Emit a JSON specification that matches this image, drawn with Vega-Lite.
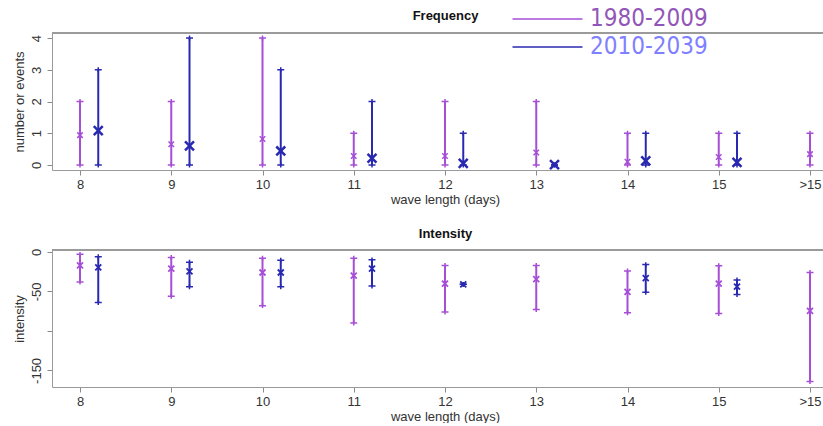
{
  "$schema": "https://vega.github.io/schema/vega-lite/v6.json",
  "background": "white",
  "padding": {"left": 12, "top": 7, "right": 0, "bottom": 0},
  "autosize": {"type": "pad"},
  "config": {
    "font": "Liberation Sans",
    "view": {"stroke": null},
    "axis": {"labelFont": "Liberation Sans", "labelFontSize": 13, "labelColor": "#333333", "titleFont": "Liberation Sans", "titleFontSize": 13, "titleFontWeight": "normal", "titleColor": "#333333", "domainColor": "#9a9a9a", "tickColor": "#8a8a8a", "grid": false, "tickSize": 5, "labelOverlap": false},
    "title": {"font": "Liberation Sans", "fontSize": 13, "fontWeight": "bold", "color": "#111111", "frame": "group"}
  },
  "datasets": {
    "d": [
      {"panel": "Frequency", "wl": "8", "period": "1980-2009", "min": 0, "mean": 0.94, "max": 2},
      {"panel": "Frequency", "wl": "9", "period": "1980-2009", "min": 0, "mean": 0.65, "max": 2},
      {"panel": "Frequency", "wl": "10", "period": "1980-2009", "min": 0, "mean": 0.82, "max": 4},
      {"panel": "Frequency", "wl": "11", "period": "1980-2009", "min": 0, "mean": 0.28, "max": 1},
      {"panel": "Frequency", "wl": "12", "period": "1980-2009", "min": 0, "mean": 0.28, "max": 2},
      {"panel": "Frequency", "wl": "13", "period": "1980-2009", "min": 0, "mean": 0.39, "max": 2},
      {"panel": "Frequency", "wl": "14", "period": "1980-2009", "min": 0, "mean": 0.1, "max": 1},
      {"panel": "Frequency", "wl": "15", "period": "1980-2009", "min": 0, "mean": 0.25, "max": 1},
      {"panel": "Frequency", "wl": ">15", "period": "1980-2009", "min": 0, "mean": 0.34, "max": 1},
      {"panel": "Frequency", "wl": "8", "period": "2010-2039", "min": 0, "mean": 1.08, "max": 3},
      {"panel": "Frequency", "wl": "9", "period": "2010-2039", "min": 0, "mean": 0.6, "max": 4},
      {"panel": "Frequency", "wl": "10", "period": "2010-2039", "min": 0, "mean": 0.44, "max": 3},
      {"panel": "Frequency", "wl": "11", "period": "2010-2039", "min": 0, "mean": 0.21, "max": 2},
      {"panel": "Frequency", "wl": "12", "period": "2010-2039", "min": 0, "mean": 0.05, "max": 1},
      {"panel": "Frequency", "wl": "13", "period": "2010-2039", "min": 0, "mean": 0.01, "max": 0},
      {"panel": "Frequency", "wl": "14", "period": "2010-2039", "min": 0, "mean": 0.13, "max": 1},
      {"panel": "Frequency", "wl": "15", "period": "2010-2039", "min": 0, "mean": 0.08, "max": 1},
      {"panel": "Intensity", "wl": "8", "period": "1980-2009", "min": -38, "mean": -17, "max": -3},
      {"panel": "Intensity", "wl": "9", "period": "1980-2009", "min": -56, "mean": -21, "max": -7},
      {"panel": "Intensity", "wl": "10", "period": "1980-2009", "min": -68, "mean": -26, "max": -8},
      {"panel": "Intensity", "wl": "11", "period": "1980-2009", "min": -90, "mean": -30, "max": -8},
      {"panel": "Intensity", "wl": "12", "period": "1980-2009", "min": -76, "mean": -40, "max": -17},
      {"panel": "Intensity", "wl": "13", "period": "1980-2009", "min": -73, "mean": -34.5, "max": -17},
      {"panel": "Intensity", "wl": "14", "period": "1980-2009", "min": -77, "mean": -50.5, "max": -24},
      {"panel": "Intensity", "wl": "15", "period": "1980-2009", "min": -78, "mean": -40, "max": -17.5},
      {"panel": "Intensity", "wl": ">15", "period": "1980-2009", "min": -164, "mean": -74.5, "max": -26},
      {"panel": "Intensity", "wl": "8", "period": "2010-2039", "min": -64, "mean": -19.5, "max": -6},
      {"panel": "Intensity", "wl": "9", "period": "2010-2039", "min": -44, "mean": -24.5, "max": -13},
      {"panel": "Intensity", "wl": "10", "period": "2010-2039", "min": -44, "mean": -26, "max": -10.5},
      {"panel": "Intensity", "wl": "11", "period": "2010-2039", "min": -43, "mean": -21, "max": -10},
      {"panel": "Intensity", "wl": "12", "period": "2010-2039", "min": -41, "mean": -41, "max": -41},
      {"panel": "Intensity", "wl": "14", "period": "2010-2039", "min": -51, "mean": -33, "max": -16},
      {"panel": "Intensity", "wl": "15", "period": "2010-2039", "min": -54, "mean": -44, "max": -35.5}
    ]
  },
  "spacing": 80,
  "bounds": "flush",
  "resolve": {"legend": {"color": "independent"}},
  "vconcat": [
    {
      "title": {"text": "Frequency", "dx": 8, "offset": -16},
      "width": 771,
      "height": 137,
      "data": {"name": "d"},
      "transform": [{"filter": "datum.panel == 'Frequency'"}],
      "layer": [
        {"mark": {"type": "rule", "strokeWidth": 1},
         "encoding": {"y": {"datum": 4.16, "type": "quantitative", "axis": {"title": "number or events", "values": [0, 1, 2, 3, 4], "tickCount": 5, "labelOverlap": false, "labelAngle": -90, "labelAlign": "center", "labelBaseline": "bottom", "labelPadding": 4, "titlePadding": 4}}, "color": {"value": "#9a9a9a"}}},
        {
          "encoding": {
            "x": {"field": "wl", "type": "ordinal", "scale": {"type": "point", "domain": ["8", "9", "10", "11", "12", "13", "14", "15", ">15"], "padding": 0.2247, "align": 0.683}, "axis": {"title": "wave length (days)", "labelAngle": 0, "labelPadding": 3, "titlePadding": 2, "titleX": 393}},
            "xOffset": {"field": "period", "type": "nominal", "scale": {"type": "point", "domain": ["1980-2009", "2010-2039"], "range": [0, 18.25], "padding": 0}},
            "color": {"field": "period", "type": "nominal", "scale": {"domain": ["1980-2009", "2010-2039"], "range": ["#a64fd6", "#2828b0"]},
              "legend": {"orient": "none", "legendX": 452, "legendY": -26, "title": null, "symbolType": "M-1,0H19", "symbolSize": 49, "symbolStrokeWidth": 1.5, "labelFont": "Liberation Sans Narrow, DejaVu Sans Condensed", "labelFontSize": 24, "labelOffset": 62, "rowPadding": 4, "padding": 0,
                "encode": {
                  "labels": {"update": {"fill": {"signal": "datum.value == '1980-2009' ? '#9256b8' : '#8080ff'"}}},
                  "symbols": {"update": {"stroke": {"signal": "datum.value == '1980-2009' ? '#8a4fb0' : '#0000ee'"}, "fill": {"value": "transparent"}}}
                }}}
          },
          "layer": [
            {"mark": {"type": "rule", "strokeWidth": 2},
             "encoding": {
               "y": {"field": "min", "type": "quantitative", "scale": {"domain": [-0.16, 4.16], "nice": false, "zero": false}, "axis": {"title": "number or events", "values": [0, 1, 2, 3, 4], "tickCount": 5, "labelOverlap": false, "labelAngle": -90, "labelAlign": "center", "labelBaseline": "bottom", "labelPadding": 4, "titlePadding": 4}},
               "y2": {"field": "max"}}},
            {"mark": {"type": "point", "shape": "M-1,0L1,0M0,-0.7L0,0.7", "size": 49, "filled": false, "strokeWidth": 1.5, "opacity": 1},
             "encoding": {"y": {"field": "min", "type": "quantitative", "axis": {"title": "number or events", "values": [0, 1, 2, 3, 4], "tickCount": 5, "labelOverlap": false, "labelAngle": -90, "labelAlign": "center", "labelBaseline": "bottom", "labelPadding": 4, "titlePadding": 4}}}},
            {"mark": {"type": "point", "shape": "M-1,0L1,0M0,-0.7L0,0.7", "size": 49, "filled": false, "strokeWidth": 1.5, "opacity": 1},
             "encoding": {"y": {"field": "max", "type": "quantitative", "axis": {"title": "number or events", "values": [0, 1, 2, 3, 4], "tickCount": 5, "labelOverlap": false, "labelAngle": -90, "labelAlign": "center", "labelBaseline": "bottom", "labelPadding": 4, "titlePadding": 4}}}},
            {"mark": {"type": "point", "shape": "M-1,-1L1,1M1,-1L-1,1", "filled": false, "opacity": 1},
             "encoding": {
               "y": {"field": "mean", "type": "quantitative", "axis": {"title": "number or events", "values": [0, 1, 2, 3, 4], "tickCount": 5, "labelOverlap": false, "labelAngle": -90, "labelAlign": "center", "labelBaseline": "bottom", "labelPadding": 4, "titlePadding": 4}},
               "size": {"field": "period", "type": "nominal", "scale": {"domain": ["1980-2009", "2010-2039"], "range": [30, 80]}, "legend": null},
               "strokeWidth": {"field": "period", "type": "nominal", "scale": {"domain": ["1980-2009", "2010-2039"], "range": [1.5, 2.5]}, "legend": null}}}
          ]
        }
      ]
    },
    {
      "title": {"text": "Intensity", "dx": 8, "offset": 7},
      "width": 771,
      "height": 137,
      "data": {"name": "d"},
      "transform": [{"filter": "datum.panel == 'Intensity'"}],
      "layer": [
        {"mark": {"type": "rule", "strokeWidth": 1},
         "encoding": {"y": {"datum": 2.5, "type": "quantitative"}, "color": {"value": "#9a9a9a"}}},
        {
          "encoding": {
            "x": {"field": "wl", "type": "ordinal", "scale": {"type": "point", "domain": ["8", "9", "10", "11", "12", "13", "14", "15", ">15"], "padding": 0.2247, "align": 0.683}, "axis": {"title": "wave length (days)", "labelAngle": 0, "labelPadding": 3, "titlePadding": 2, "titleX": 393}},
            "xOffset": {"field": "period", "type": "nominal", "scale": {"type": "point", "domain": ["1980-2009", "2010-2039"], "range": [0, 18.25], "padding": 0}},
            "color": {"field": "period", "type": "nominal", "scale": {"domain": ["1980-2009", "2010-2039"], "range": ["#a64fd6", "#2828b0"]}, "legend": null}
          },
          "layer": [
            {"mark": {"type": "rule", "strokeWidth": 2},
             "encoding": {
               "y": {"field": "min", "type": "quantitative", "scale": {"domain": [-171, 2.5], "nice": false, "zero": false}, "axis": {"title": "intensity", "values": [0, -50, -100, -150], "labelOverlap": false, "labelExpr": "datum.value == -100 ? '' : replace(datum.label, '\u2212', '-')", "labelAngle": -90, "labelAlign": "center", "labelBaseline": "bottom", "labelPadding": 4, "titlePadding": 4}},
               "y2": {"field": "max"}}},
            {"mark": {"type": "point", "shape": "M-1,0L1,0M0,-0.7L0,0.7", "size": 49, "filled": false, "strokeWidth": 1.5, "opacity": 1},
             "encoding": {"y": {"field": "min", "type": "quantitative"}}},
            {"mark": {"type": "point", "shape": "M-1,0L1,0M0,-0.7L0,0.7", "size": 49, "filled": false, "strokeWidth": 1.5, "opacity": 1},
             "encoding": {"y": {"field": "max", "type": "quantitative"}}},
            {"mark": {"type": "point", "shape": "M-1,-1L1,1M1,-1L-1,1", "filled": false, "opacity": 1, "size": 36, "strokeWidth": 1.8},
             "encoding": {"y": {"field": "mean", "type": "quantitative"}}}
          ]
        }
      ]
    }
  ]
}
